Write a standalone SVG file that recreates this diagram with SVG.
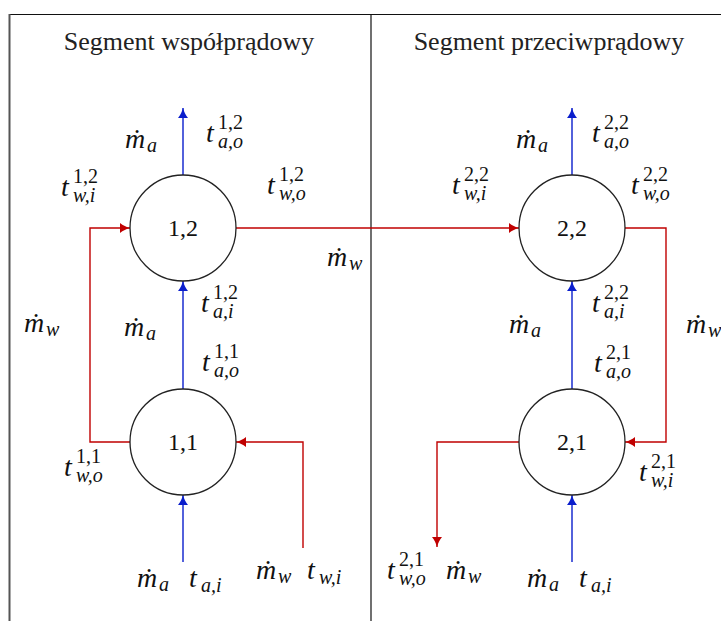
<svg xmlns="http://www.w3.org/2000/svg" width="721" height="621" viewBox="0 0 721 621">
<style>
.frame{stroke:#111;stroke-width:1.2;fill:none}
.node circle{fill:#fff;stroke:#222;stroke-width:1.3}
.blue{stroke:#0a1ecc;stroke-width:1.4;fill:none;marker-end:url(#ab)}
.red{stroke:#c00000;stroke-width:1.4;fill:none;marker-end:url(#ar)}
.title{font-family:"Liberation Serif","DejaVu Serif",serif;font-size:26px;fill:#222;text-anchor:middle}
.nl{font-family:"Liberation Serif","DejaVu Serif",serif;font-size:24px;fill:#111;text-anchor:middle}
.mi{font-family:"Liberation Serif","DejaVu Serif",serif;font-style:italic;font-size:28px;fill:#111}
.s{font-size:20px}
.up{font-style:normal}
</style>
<defs>
<marker id="ab" markerWidth="11" markerHeight="11" refX="10" refY="5.5" orient="auto" markerUnits="userSpaceOnUse">
<path d="M10,5.5 C6.5,6.3 3,8.2 0,10.5 L0,0.5 C3,2.8 6.5,4.7 10,5.5 Z" fill="#0a1ecc"/>
</marker>
<marker id="ar" markerWidth="11" markerHeight="11" refX="10" refY="5.5" orient="auto" markerUnits="userSpaceOnUse">
<path d="M10,5.5 C6.5,6.3 3,8.2 0,10.5 L0,0.5 C3,2.8 6.5,4.7 10,5.5 Z" fill="#c00000"/>
</marker>
</defs>
<rect width="721" height="621" fill="#fff"/>
<g id="frame">
<line class="frame" x1="9" y1="14.5" x2="721" y2="14.5"/>
<line x1="9.5" y1="14" x2="9.5" y2="621" stroke="#555" stroke-width="2"/>
<line class="frame" x1="371" y1="14" x2="371" y2="621"/>
<text class="title" x="189" y="50">Segment współprądowy</text>
<text class="title" x="549" y="50">Segment przeciwprądowy</text>
</g>
<g id="connectors">
<path class="blue" d="M183,175 V108"/>
<path class="blue" d="M183,389 V281"/>
<path class="blue" d="M183,562 V495"/>
<path class="blue" d="M572,175 V108"/>
<path class="blue" d="M572,389 V281"/>
<path class="blue" d="M572,562 V495"/>
<path class="red" d="M130,442 H90 V228 H130"/>
<path class="red" d="M236,228 H519"/>
<path class="red" d="M303,548 V442 H236"/>
<path class="red" d="M625,228 H666 V442 H625"/>
<path class="red" d="M519,442 H437 V547"/>
</g>
<g id="n12" class="node"><circle cx="183" cy="228" r="53"/><text class="nl" x="183" y="236">1,2</text></g>
<g id="n11" class="node"><circle cx="183" cy="442" r="53"/><text class="nl" x="183" y="450">1,1</text></g>
<g id="n22" class="node"><circle cx="572" cy="228" r="53"/><text class="nl" x="572" y="236">2,2</text></g>
<g id="n21" class="node"><circle cx="572" cy="442" r="53"/><text class="nl" x="572" y="450">2,1</text></g>
<g id="labels">
<text class="mi" x="125" y="148">ṁ<tspan class="s" x="147" y="152">a</tspan></text>
<text class="mi" x="206" y="142">t<tspan class="s up" x="218" y="129">1,2</tspan><tspan class="s" x="218" y="148">a,o</tspan></text>
<text class="mi" x="61" y="196">t<tspan class="s up" x="73" y="183">1,2</tspan><tspan class="s" x="73" y="202">w,i</tspan></text>
<text class="mi" x="267" y="194">t<tspan class="s up" x="279" y="181">1,2</tspan><tspan class="s" x="279" y="200">w,o</tspan></text>
<text class="mi" x="327" y="266">ṁ<tspan class="s" x="349" y="270">w</tspan></text>
<text class="mi" x="24" y="332">ṁ<tspan class="s" x="46" y="336">w</tspan></text>
<text class="mi" x="124" y="336">ṁ<tspan class="s" x="146" y="340">a</tspan></text>
<text class="mi" x="201" y="312">t<tspan class="s up" x="213" y="299">1,2</tspan><tspan class="s" x="213" y="318">a,i</tspan></text>
<text class="mi" x="202" y="371">t<tspan class="s up" x="214" y="358">1,1</tspan><tspan class="s" x="214" y="377">a,o</tspan></text>
<text class="mi" x="64" y="476">t<tspan class="s up" x="76" y="463">1,1</tspan><tspan class="s" x="76" y="482">w,o</tspan></text>
<text class="mi" x="137" y="587">ṁ<tspan class="s" x="159" y="591">a</tspan></text>
<text class="mi" x="189" y="587">t<tspan class="s" x="201" y="592">a,i</tspan></text>
<text class="mi" x="256" y="579">ṁ<tspan class="s" x="278" y="583">w</tspan></text>
<text class="mi" x="307" y="579">t<tspan class="s" x="319" y="584">w,i</tspan></text>
<text class="mi" x="516" y="148">ṁ<tspan class="s" x="538" y="152">a</tspan></text>
<text class="mi" x="592" y="142">t<tspan class="s up" x="604" y="129">2,2</tspan><tspan class="s" x="604" y="148">a,o</tspan></text>
<text class="mi" x="452" y="194">t<tspan class="s up" x="464" y="181">2,2</tspan><tspan class="s" x="464" y="200">w,i</tspan></text>
<text class="mi" x="631" y="194">t<tspan class="s up" x="643" y="181">2,2</tspan><tspan class="s" x="643" y="200">w,o</tspan></text>
<text class="mi" x="509" y="333">ṁ<tspan class="s" x="531" y="337">a</tspan></text>
<text class="mi" x="592" y="312">t<tspan class="s up" x="604" y="299">2,2</tspan><tspan class="s" x="604" y="318">a,i</tspan></text>
<text class="mi" x="686" y="333">ṁ<tspan class="s" x="708" y="337">w</tspan></text>
<text class="mi" x="594" y="372">t<tspan class="s up" x="606" y="359">2,1</tspan><tspan class="s" x="606" y="378">a,o</tspan></text>
<text class="mi" x="639" y="481">t<tspan class="s up" x="651" y="468">2,1</tspan><tspan class="s" x="651" y="487">w,i</tspan></text>
<text class="mi" x="387" y="579">t<tspan class="s up" x="399" y="566">2,1</tspan><tspan class="s" x="399" y="585">w,o</tspan></text>
<text class="mi" x="446" y="579">ṁ<tspan class="s" x="468" y="583">w</tspan></text>
<text class="mi" x="527" y="587">ṁ<tspan class="s" x="549" y="591">a</tspan></text>
<text class="mi" x="579" y="587">t<tspan class="s" x="591" y="592">a,i</tspan></text>
</g>
</svg>
